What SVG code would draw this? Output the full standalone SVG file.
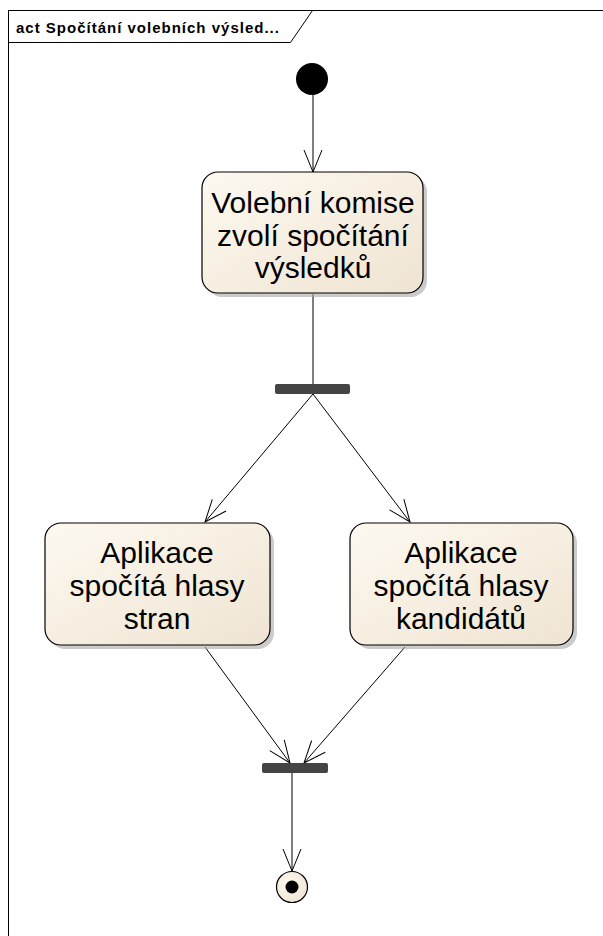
<svg xmlns="http://www.w3.org/2000/svg" width="603" height="936" viewBox="0 0 603 936">
  <defs>
    <linearGradient id="actFill" x1="0" y1="0" x2="1" y2="1">
      <stop offset="0" stop-color="#fdf9f0"/>
      <stop offset="1" stop-color="#efe4d2"/>
    </linearGradient>
    <radialGradient id="finalFill" cx="0.4" cy="0.4" r="0.7">
      <stop offset="0" stop-color="#fdf9f0"/>
      <stop offset="1" stop-color="#efe4d2"/>
    </radialGradient>
    <marker id="open" viewBox="0 0 24 20" refX="23" refY="10" markerWidth="24" markerHeight="20" markerUnits="userSpaceOnUse" orient="auto">
      <path d="M1,1 L23,10 L1,19" fill="none" stroke="#000" stroke-width="1"/>
    </marker>
  </defs>
  <style>
    .frame { fill: #fff; stroke: #000; stroke-width: 1; }
    .title { font-family: "Liberation Sans", Arial, sans-serif; font-size: 15px; font-weight: bold; letter-spacing: 1px; fill: #000; }
    .act { fill: url(#actFill); stroke: #000; stroke-width: 1.2; }
    .shadow { fill: #a8a8a8; opacity: 0.6; }
    .label { font-family: "Liberation Sans", Arial, sans-serif; font-size: 30px; fill: #000; text-anchor: middle; }
    .bar { fill: #444; }
    .edge { fill: none; stroke: #000; stroke-width: 1; marker-end: url(#open); }
  </style>

  <rect width="603" height="936" fill="#fff"/>

  <!-- diagram frame with name tab -->
  <g id="frame">
    <rect class="frame" x="8.5" y="10.5" width="620" height="960"/>
    <path d="M8.5,42.5 H290.5 L312.5,10.5" fill="none" stroke="#000" stroke-width="1"/>
    <text class="title" x="16" y="33">act Spočítání volebních výsled...</text>
  </g>

  <!-- connectors -->
  <g id="connectors">
    <line class="edge" x1="313" y1="95" x2="313" y2="172"/>
    <line x1="313" y1="294" x2="313" y2="384" stroke="#000" stroke-width="1"/>
    <line class="edge" x1="313" y1="394" x2="205" y2="522"/>
    <line class="edge" x1="313" y1="394" x2="410" y2="522"/>
    <line class="edge" x1="205" y1="647" x2="290" y2="763"/>
    <line class="edge" x1="405" y1="647" x2="304" y2="763"/>
    <line class="edge" x1="292" y1="773" x2="292" y2="871"/>
  </g>

  <!-- start -->
  <g id="initial">
    <circle cx="312" cy="79" r="16" fill="#000"/>
  </g>

  <g id="choose">
    <rect class="shadow" x="206" y="176" width="221" height="121" rx="16"/>
    <rect class="act" x="202" y="172" width="221" height="121" rx="16"/>
    <text class="label" x="313" y="213">Volební komise</text>
    <text class="label" x="313" y="246">zvolí spočítání</text>
    <text class="label" x="313" y="278">výsledků</text>
  </g>

  <g id="fork">
    <rect class="bar" x="275" y="384" width="75" height="10" rx="2"/>
  </g>

  <g id="countParties">
    <rect class="shadow" x="49" y="527" width="225" height="122" rx="16"/>
    <rect class="act" x="45" y="523" width="225" height="122" rx="16"/>
    <text class="label" x="157" y="563">Aplikace</text>
    <text class="label" x="157" y="596">spočítá hlasy</text>
    <text class="label" x="157" y="629">stran</text>
  </g>

  <g id="countCandidates">
    <rect class="shadow" x="354" y="527" width="223" height="122" rx="16"/>
    <rect class="act" x="350" y="523" width="223" height="122" rx="16"/>
    <text class="label" x="461" y="563">Aplikace</text>
    <text class="label" x="461" y="596">spočítá hlasy</text>
    <text class="label" x="461" y="629">kandidátů</text>
  </g>

  <g id="join">
    <rect class="bar" x="262" y="763" width="66" height="10" rx="2"/>
  </g>

  <g id="final">
    <circle cx="292" cy="887" r="15.5" fill="url(#finalFill)" stroke="#000" stroke-width="1.2"/>
    <circle cx="292" cy="887" r="6.5" fill="#000"/>
  </g>
</svg>
